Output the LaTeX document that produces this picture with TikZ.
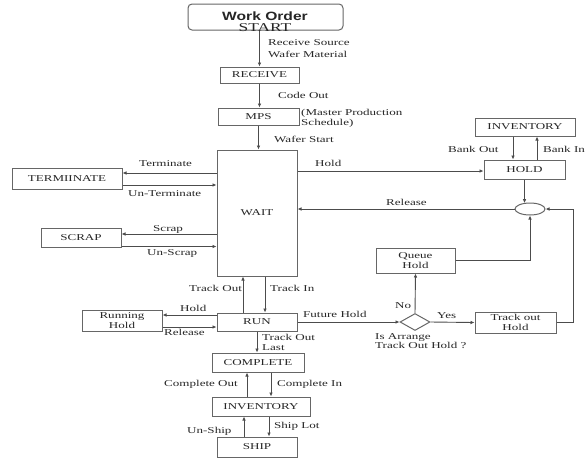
\documentclass[tikz,border=0pt]{standalone}
\usepackage{fontspec}
\setmainfont{Liberation Serif}[FakeStretch=1.45]
\newfontfamily\headsans{Liberation Sans}[FakeStretch=1.3]
\usetikzlibrary{arrows.meta,shapes.geometric,calc}
\begin{document}
\begin{tikzpicture}[x=1pt,y=-1pt,
  txt/.style={font=\fontsize{9}{9.5}\selectfont, text=black!85},
  box/.style={draw=black!60, line width=1pt, fill=white, inner sep=0pt, txt, align=center},
  lbl/.style={txt, inner sep=0pt, anchor=base west},
  lblm/.style={txt, inner sep=0pt, anchor=north west, align=left},
  arr/.style={draw=black!70, line width=0.9pt, -{Latex[length=4pt,width=3.6pt]}},
  ln/.style={draw=black!70, line width=0.9pt}]
\useasboundingbox (0,0) rectangle (588,461);

% ---- boxes ----
\node[box, rounded corners=4pt, minimum width=155, minimum height=26] (start) at (265.5,17) {};
\node[inner sep=0pt, align=center, text=black!85] (starttxt) at (265,21.5)
  {{\headsans\bfseries\fontsize{12}{12}\selectfont Work Order}\\[-0.5pt]{\fontsize{12}{12}\selectfont START}};
\node[box, minimum width=79, minimum height=16] (receive) at (259.5,75) {RECEIVE};
\node[box, minimum width=81, minimum height=17] (mps) at (258.5,116.5) {MPS};
\node[box, minimum width=80, minimum height=126] (wait) at (257,213) {WAIT};
\node[box, minimum width=110, minimum height=21] (term) at (67,178.5) {TERMIINATE};
\node[box, minimum width=80, minimum height=19] (scrap) at (81,237.5) {SCRAP};
\node[box, minimum width=100, minimum height=18] (invtop) at (525,127) {INVENTORY};
\node[box, minimum width=81, minimum height=19] (hold) at (524.5,169.5) {HOLD};
\node[draw=black!60, line width=1pt, ellipse, inner sep=0pt, minimum width=30, minimum height=12] (join) at (530,209) {};
\node[box, minimum width=79, minimum height=25] (queue) at (415.5,260.5) {Queue\\Hold};
\node[draw=black!60, line width=1pt, diamond, aspect=1.8, inner sep=0pt, minimum width=30, minimum height=17] (dia) at (415,322) {};
\node[box, minimum width=81, minimum height=21] (tohold) at (515.5,322.5) {Track out\\Hold};
\node[box, minimum width=80, minimum height=18] (run) at (257,322) {RUN};
\node[box, minimum width=80, minimum height=21] (rhold) at (122,320.5) {Running\\Hold};
\node[box, minimum width=92, minimum height=19] (complete) at (258,362.5) {COMPLETE};
\node[box, minimum width=98, minimum height=19] (invbot) at (261,406.5) {INVENTORY};
\node[box, minimum width=80, minimum height=20] (ship) at (257,447) {SHIP};

% ---- main chain ----
\draw[arr] (start.south -| receive.north) -- (receive.north);
\draw[arr] (receive.south) -- (receive.south |- mps.north);
\draw[arr] (mps.south) -- (mps.south |- wait.north);

% ---- terminate / scrap ----
\coordinate (t1) at ($(term.east)+(0,-5.5)$);
\coordinate (t2) at ($(term.east)+(0,6.5)$);
\draw[arr] (wait.west |- t1) -- (t1);
\draw[arr] (t2) -- (wait.west |- t2);
\coordinate (s1) at ($(scrap.east)+(0,-3.5)$);
\coordinate (s2) at ($(scrap.east)+(0,9)$);
\draw[arr] (wait.west |- s1) -- (s1);
\draw[arr] (s2) -- (wait.west |- s2);

% ---- hold loop ----
\coordinate (hw) at ($(hold.west)+(0,1.5)$);
\draw[arr] (wait.east |- hw) -- (hw);
\coordinate (bo) at ($(invtop.south)+(-12,0)$);
\coordinate (bi) at ($(invtop.south)+(12,0)$);
\draw[arr] (bo) -- (bo |- hold.north);
\draw[arr] (bi |- hold.north) -- (bi);
\draw[arr] (hold.south) -- ($(hold.south |- join.north)+(0,0.6)$);
\draw[arr] (join.west) -- (join.west -| wait.east);
\draw[arr] (queue.east) -- (queue.east -| join.south) -- (join.south);
\draw[arr] (tohold.east) -- ++(17,0) |- (join.east);

% ---- run and its branches ----
\coordinate (to) at ($(run.north)+(-14,0)$);
\coordinate (ti) at ($(run.north)+(8,0)$);
\draw[arr] (to) -- (to |- wait.south);
\draw[arr] (ti |- wait.south) -- (ti);
\coordinate (rh1) at ($(run.west)+(0,-7)$);
\coordinate (rh2) at ($(run.west)+(0,5)$);
\draw[arr] (rh1) -- (rh1 -| rhold.east);
\draw[arr] (rh2 -| rhold.east) -- (rh2);
\draw[arr] (run.east) -- (dia.west);
\draw[arr] (dia.north) -- (queue.south);
\draw[arr] (dia.east) -- (tohold.west);
\draw[arr] (run.south) -- (run.south |- complete.north);

% ---- complete / inventory / ship ----
\coordinate (co) at ($(complete.south)+(-11,0)$);
\coordinate (ci) at ($(complete.south)+(13,0)$);
\draw[arr] (co |- invbot.north) -- (co);
\draw[arr] (ci) -- (ci |- invbot.north);
\coordinate (us) at ($(ship.north)+(-13,0)$);
\coordinate (sl) at ($(ship.north)+(12,0)$);
\draw[arr] (us) -- (us |- invbot.south);
\draw[arr] (sl |- invbot.south) -- (sl);

% ---- connector labels ----
\node[lblm, font=\fontsize{9}{12}\selectfont] (lrecv) at (268,39.5) {Receive Source\\Wafer Material};
\node[lbl] (lcode) at (278,98) {Code Out};
\node[lblm] (lmps) at (301,109.5) {(Master Production\\Schedule)};
\node[lbl] (lwafer) at (274,142) {Wafer Start};
\node[lbl] (lterm) at (139,166) {Terminate};
\node[lbl] (luterm) at (128,196) {Un-Terminate};
\node[lbl] (lscrap) at (153,231) {Scrap};
\node[lbl] (luscrap) at (147,255) {Un-Scrap};
\node[lbl] (lhold) at (315,166) {Hold};
\node[lbl] (lrel) at (386,205) {Release};
\node[lbl] (lbo) at (448,152) {Bank Out};
\node[lbl] (lbi) at (543,152) {Bank In};
\node[lbl] (lno) at (395,308) {No};
\node[lbl] (lyes) at (437,318) {Yes};
\node[lbl] (lfut) at (303,317) {Future Hold};
\node[lblm] (larr) at (375,333) {Is Arrange\\Track Out Hold ?};
\node[lbl] (ltout) at (189,291) {Track Out};
\node[lbl] (ltin) at (270,291) {Track In};
\node[lbl] (lrhold) at (180,311) {Hold};
\node[lbl] (lrrel) at (164,335) {Release};
\node[lblm] (ltlast) at (262,334.5) {Track Out\\Last};
\node[lbl, anchor=base east] (lcout) at (238,386) {Complete Out};
\node[lbl] (lcin) at (277,386) {Complete In};
\node[lbl] (lunship) at (187,433) {Un-Ship};
\node[lbl] (lship) at (274,428) {Ship Lot};
\end{tikzpicture}
\end{document}
